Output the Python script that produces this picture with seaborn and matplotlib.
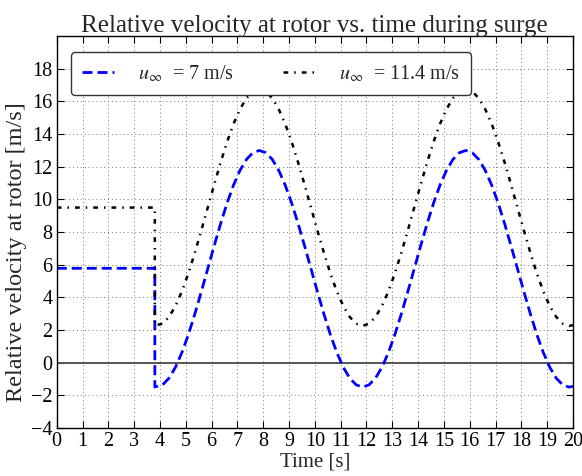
import matplotlib
matplotlib.use("Agg")
import matplotlib.pyplot as plt
import seaborn as sns
import pandas as pd

# ---- data ----
time = [0.0, 3.8, 3.8,
        4.10, 4.35, 4.60, 4.85, 5.10, 5.35, 5.60, 5.85,
        6.10, 6.35, 6.60, 6.85, 7.10, 7.35, 7.60, 7.85,
        8.10, 8.35, 8.60, 8.85, 9.10, 9.35, 9.60, 9.85,
        10.10, 10.35, 10.60, 10.85, 11.10, 11.35, 11.60, 11.85,
        12.10, 12.35, 12.60, 12.85, 13.10, 13.35, 13.60, 13.85,
        14.10, 14.35, 14.60, 14.85, 15.10, 15.35, 15.60, 15.85,
        16.10, 16.35, 16.60, 16.85, 17.10, 17.35, 17.60, 17.85,
        18.10, 18.35, 18.60, 18.85, 19.10, 19.35, 19.60, 19.85, 20.0]

v_7 = [5.78, 5.78, -1.49,
       -1.36, -0.95, -0.28, 0.62, 1.72, 2.98, 4.34, 5.75,
       7.16, 8.52, 9.78, 10.88, 11.78, 12.45, 12.86, 13.00,
       12.86, 12.45, 11.78, 10.88, 9.78, 8.52, 7.16, 5.75,
       4.34, 2.98, 1.72, 0.62, -0.28, -0.95, -1.36, -1.50,
       -1.36, -0.95, -0.28, 0.62, 1.72, 2.98, 4.34, 5.75,
       7.16, 8.52, 9.78, 10.88, 11.78, 12.45, 12.86, 13.00,
       12.86, 12.45, 11.78, 10.88, 9.78, 8.52, 7.16, 5.75,
       4.34, 2.98, 1.72, 0.62, -0.28, -0.95, -1.36, -1.50, -1.45]

v_11 = [9.50, 9.50, 2.27,
        2.39, 2.80, 3.47, 4.37, 5.47, 6.73, 8.09, 9.50,
        10.91, 12.27, 13.53, 14.63, 15.53, 16.20, 16.61, 16.75,
        16.61, 16.20, 15.53, 14.63, 13.53, 12.27, 10.91, 9.50,
        8.09, 6.73, 5.47, 4.37, 3.47, 2.80, 2.39, 2.25,
        2.39, 2.80, 3.47, 4.37, 5.47, 6.73, 8.09, 9.50,
        10.91, 12.27, 13.53, 14.63, 15.53, 16.20, 16.61, 16.75,
        16.61, 16.20, 15.53, 14.63, 13.53, 12.27, 10.91, 9.50,
        8.09, 6.73, 5.47, 4.37, 3.47, 2.80, 2.39, 2.25, 2.30]

labels = [r"$u_{\infty}$  = 7 m/s", r"$u_{\infty}$  = 11.4 m/s"]
x_ticks = list(range(0, 21))
y_ticks = list(range(-4, 19, 2))

df7 = pd.DataFrame({"t": time, "v": v_7})
df11 = pd.DataFrame({"t": time, "v": v_11})

BLUE_DASH = (3.6, 1.8)
BLACK_DASH = (1.9, 2.4, 0.6, 2.4)

sns.set_theme(style="ticks")
plt.rcParams["font.family"] = ["Liberation Serif", "DejaVu Serif"]
plt.rcParams["mathtext.fontset"] = "stix"

fig = plt.figure(figsize=(5.82, 4.76), dpi=100)
ax = fig.add_axes([0.0975, 0.101, 0.887, 0.823])

ax.axhline(0, color="#555555", lw=1.4, zorder=1)

sns.lineplot(data=df7, x="t", y="v", ax=ax, estimator=None, sort=False,
             color="#0000ff", lw=2.0, label=labels[0])
ax.lines[-1].set_dashes(BLUE_DASH)

sns.lineplot(data=df11, x="t", y="v", ax=ax, estimator=None, sort=False,
             color="black", lw=1.8, label=labels[1])
ax.lines[-1].set_dashes(BLACK_DASH)

ax.set_xlim(0, 20)
ax.set_ylim(-4, 20)
ax.set_xticks(x_ticks)
ax.set_yticks(y_ticks)
ax.tick_params(direction="in", top=True, right=True, length=5, width=0.8,
               labelsize=14.5, colors="black", pad=3)
ax.grid(True, linestyle=(0, (1, 3)), color="#777777", lw=0.7)
for s in ax.spines.values():
    s.set_color("black")
    s.set_linewidth(1.0)

ax.set_title("Relative velocity at rotor vs. time during surge", fontsize=18, pad=3)
ax.set_xlabel("Time [s]", fontsize=15, labelpad=1)
ax.set_ylabel("Relative velocity at rotor [m/s]", fontsize=17.5)
ax.yaxis.set_label_coords(-0.058, 0.45)

leg = ax.legend(loc="upper left", ncol=2, fontsize=14.5, frameon=True, fancybox=True,
                handlelength=1.6, columnspacing=2.4, handletextpad=1.2,
                bbox_to_anchor=(0.008, 0.985), borderpad=0.55)
leg.get_frame().set_edgecolor("#333333")
leg.get_frame().set_linewidth(1.0)
leg.get_frame().set_alpha(1.0)
hl = leg.get_lines()
hl[0].set_dashes(BLUE_DASH)
hl[1].set_dashes(BLACK_DASH)

fig.savefig("out.png", dpi=100)
